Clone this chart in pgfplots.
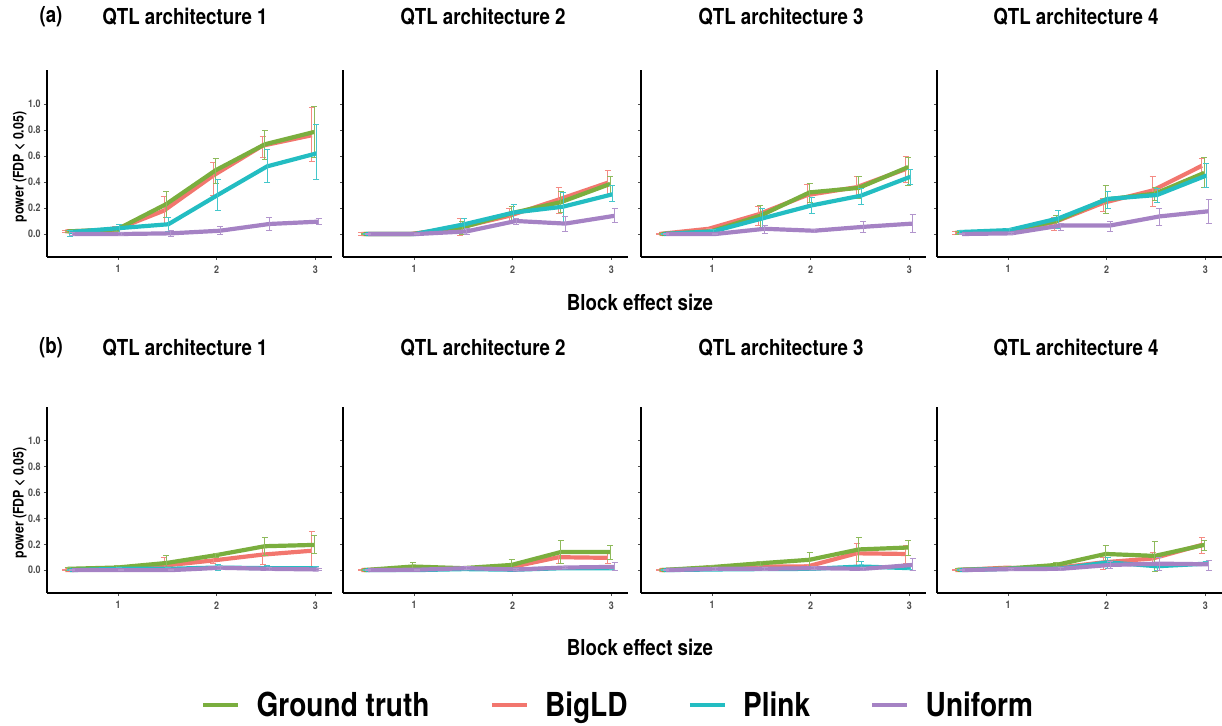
\documentclass[border=0pt]{standalone}
\usepackage{pgfplots}
\pgfplotsset{compat=1.18}
\usepackage{pgfplotstable}
\usepackage{fontspec}
\setmainfont{TeX Gyre Heros}[FakeStretch=0.85]
\definecolor{cG}{HTML}{7AAE3E}
\definecolor{cR}{HTML}{F2766E}
\definecolor{cC}{HTML}{23BDC2}
\definecolor{cU}{HTML}{A582C4}
\definecolor{tickgray}{HTML}{4D4D4D}

% columns: x | ground truth y lo hi | BigLD y lo hi | Plink y lo hi | Uniform y lo hi
\pgfplotstableread{
x   gy    glo    ghi   ry    rlo    rhi   cy    clo    chi   uy    ulo    uhi
0.5 0.02  0.01   0.03  0.02  0.01   0.03  0.015 -0.02  0.03  0.0   -0.01  0.01
1.0 0.035 0.02   0.05  0.03  0.0    0.06  0.045 0.0    0.07  0.0   -0.01  0.01
1.5 0.23  0.13   0.33  0.18  0.08   0.29  0.075 0.02   0.13  0.005 -0.02  0.03
2.0 0.49  0.39   0.58  0.45  0.30   0.55  0.30  0.18   0.42  0.025 0.0    0.06
2.5 0.69  0.57   0.80  0.68  0.59   0.75  0.52  0.40   0.65  0.077 0.025  0.125
3.0 0.785 0.59   0.98  0.76  0.56   0.97  0.62  0.42   0.84  0.095 0.07   0.12
}\tAa
\pgfplotstableread{
x   gy    glo    ghi   ry    rlo    rhi   cy    clo    chi   uy    ulo    uhi
0.5 0.0   -0.005 0.005 0.0   -0.01  0.01  0.0   -0.005 0.005 0.0   -0.005 0.005
1.0 0.0   -0.005 0.005 0.0   -0.005 0.005 0.0   -0.01  0.005 0.0   -0.005 0.005
1.5 0.05  0.0    0.10  0.05  -0.01  0.12  0.075 0.03   0.12  0.02  0.0    0.045
2.0 0.16  0.09   0.215 0.14  0.09   0.195 0.165 0.09   0.23  0.10  0.075  0.12
2.5 0.245 0.165  0.33  0.265 0.16   0.36  0.21  0.09   0.32  0.08  0.02   0.135
3.0 0.385 0.30   0.44  0.395 0.30   0.49  0.305 0.25   0.37  0.14  0.085  0.20
}\tAb
\pgfplotstableread{
x   gy    glo    ghi   ry    rlo    rhi   cy    clo    chi   uy    ulo    uhi
0.5 0.0   -0.005 0.005 0.0   -0.005 0.005 0.0   -0.005 0.005 0.0   -0.005 0.005
1.0 0.02  0.0    0.035 0.04  0.03   0.045 0.02  0.0    0.035 0.0   -0.005 0.005
1.5 0.14  0.04   0.22  0.15  0.065  0.215 0.12  0.05   0.20  0.04  0.005  0.065
2.0 0.32  0.24   0.39  0.30  0.215  0.38  0.22  0.16   0.28  0.025 0.01   0.035
2.5 0.355 0.27   0.44  0.36  0.28   0.44  0.295 0.23   0.35  0.055 0.01   0.095
3.0 0.515 0.37   0.59  0.50  0.40   0.60  0.44  0.38   0.50  0.08  0.01   0.15
}\tAc
\pgfplotstableread{
x   gy    glo    ghi   ry    rlo    rhi   cy    clo    chi   uy    ulo    uhi
0.5 0.01  0.0    0.02  0.01  0.0    0.02  0.015 0.005  0.025 0.0   -0.005 0.005
1.0 0.02  0.005  0.03  0.015 0.005  0.025 0.03  0.015  0.045 0.005 0.0    0.01
1.5 0.10  0.05   0.145 0.09  0.025  0.13  0.12  0.045  0.185 0.065 0.03   0.08
2.0 0.265 0.16   0.37  0.24  0.17   0.27  0.27  0.20   0.33  0.065 0.02   0.10
2.5 0.31  0.255  0.36  0.335 0.21   0.445 0.30  0.245  0.35  0.135 0.065  0.20
3.0 0.47  0.36   0.59  0.525 0.44   0.58  0.45  0.36   0.54  0.175 0.08   0.265
}\tAd
\pgfplotstableread{
x   gy    glo    ghi   ry    rlo    rhi   cy    clo    chi   uy    ulo    uhi
0.5 0.01  0.0    0.02  0.0   -0.005 0.005 0.0   -0.005 0.005 0.0   -0.005 0.005
1.0 0.02  0.01   0.035 0.01  0.0    0.025 0.01  0.0    0.02  0.0   -0.005 0.005
1.5 0.055 0.0    0.11  0.035 0.0    0.095 0.01  0.0    0.02  0.0   -0.005 0.005
2.0 0.115 0.095  0.13  0.075 0.05   0.095 0.02  0.0    0.045 0.018 0.005  0.03
2.5 0.185 0.11   0.255 0.12  0.04   0.19  0.015 0.0    0.035 0.01  0.0    0.02
3.0 0.195 0.13   0.265 0.15  0.0    0.30  0.015 0.005  0.025 0.005 0.0    0.01
}\tBa
\pgfplotstableread{
x   gy    glo    ghi   ry    rlo    rhi   cy    clo    chi   uy    ulo    uhi
0.5 0.0   -0.005 0.005 0.0   -0.005 0.005 0.0   -0.005 0.005 0.0   -0.005 0.005
1.0 0.028 0.0    0.06  0.01  0.0    0.02  0.0   -0.005 0.005 0.003 0.0    0.008
1.5 0.015 0.005  0.025 0.012 0.0    0.025 0.008 0.0    0.015 0.015 0.005  0.025
2.0 0.04  -0.01  0.085 0.02  0.0    0.04  0.003 -0.005 0.01  0.005 0.0    0.01
2.5 0.14  0.05   0.23  0.10  0.05   0.14  0.015 0.005  0.025 0.02  0.01   0.03
3.0 0.14  0.085  0.19  0.095 0.055  0.14  0.015 0.005  0.025 0.025 -0.005 0.06
}\tBb
\pgfplotstableread{
x   gy    glo    ghi   ry    rlo    rhi   cy    clo    chi   uy    ulo    uhi
0.5 0.0   -0.005 0.005 0.0   -0.005 0.005 0.0   -0.005 0.005 0.0   -0.005 0.005
1.0 0.023 0.01   0.035 0.015 0.0    0.035 0.005 0.0    0.01  0.01  0.0    0.02
1.5 0.053 0.035  0.07  0.028 0.015  0.04  0.008 0.0    0.015 0.01  0.0    0.02
2.0 0.08  0.015  0.14  0.028 0.01   0.045 0.01  0.0    0.02  0.015 0.005  0.025
2.5 0.16  0.07   0.25  0.13  0.04   0.21  0.028 0.0    0.065 0.01  0.0    0.02
3.0 0.175 0.115  0.23  0.125 0.05   0.19  0.015 0.005  0.025 0.04  0.0    0.09
}\tBc
\pgfplotstableread{
x   gy    glo    ghi   ry    rlo    rhi   cy    clo    chi   uy    ulo    uhi
0.5 0.003 0.0    0.01  0.0   -0.005 0.005 0.0   -0.005 0.005 0.0   -0.005 0.005
1.0 0.012 0.005  0.02  0.018 0.008  0.025 0.01  0.005  0.015 0.008 0.0    0.015
1.5 0.04  0.025  0.06  0.015 0.005  0.025 0.01  0.005  0.015 0.01  0.0    0.02
2.0 0.125 0.07   0.19  0.06  0.005  0.10  0.06  0.015  0.10  0.04  0.01   0.07
2.5 0.11  -0.01  0.22  0.09  0.04   0.135 0.03  0.0    0.04  0.05  0.0    0.10
3.0 0.195 0.15   0.23  0.195 0.13   0.255 0.05  0.035  0.065 0.045 0.0    0.075
}\tBd

\newcommand{\series}[6]{%
  \addplot[forget plot, color=#5, line width=4.2pt, line join=round, no markers,
    error bars/.cd, y dir=both, y explicit,
    error bar style={line width=0.9pt, color=#5!85!white},
    error mark options={rotate=90, mark size=3pt, line width=0.9pt, color=#5!85!white}]
  table[x expr=\thisrow{x}+#6, y=#2,
        y error plus expr=\thisrow{#4}-\thisrow{#2},
        y error minus expr=\thisrow{#2}-\thisrow{#3}] {#1};}
\newcommand{\allseries}[1]{%
  \series{#1}{ry}{rlo}{rhi}{cR}{-0.034}
  \series{#1}{gy}{glo}{ghi}{cG}{-0.011}
  \series{#1}{cy}{clo}{chi}{cC}{0.011}
  \series{#1}{uy}{ulo}{uhi}{cU}{0.034}}

\pgfplotsset{
  panel/.style={scale only axis, width=285pt, anchor=south west,
    xmin=0.28, xmax=3.17, ymin=-0.177, ymax=1.262,
    axis x line=bottom, axis y line=left,
    axis line style={-, line width=1.6pt, black},
    xtick={1,2,3}, ytick={0,0.2,0.4,0.6,0.8,1.0},
    tick align=outside, major tick length=3pt,
    tick style={line width=0.8pt, color=tickgray},
    /pgf/number format/assume math mode=true,
    yticklabel style={/pgf/number format/.cd, fixed, fixed zerofill, precision=1},
    tick label style={font=\fontsize{10.5}{12}\selectfont\bfseries, text=tickgray},
    xticklabel style={yshift=-2pt},
    clip=false},
  row1/.style={panel, height=187pt},
  row2/.style={panel, height=186pt},
  nolab/.style={yticklabels={}},
}

\begin{document}
\begin{tikzpicture}[x=1pt,y=1pt]
\useasboundingbox (0,0) rectangle (1222,725);
% row (a)
\begin{axis}[row1, at={(47pt,468pt)}]
\allseries{\tAa}
\end{axis}
\begin{axis}[row1, nolab, at={(343pt,468pt)}]
\allseries{\tAb}
\end{axis}
\begin{axis}[row1, nolab, at={(641pt,468pt)}]
\allseries{\tAc}
\end{axis}
\begin{axis}[row1, nolab, at={(937pt,468pt)}]
\allseries{\tAd}
\end{axis}
% row (b)
\begin{axis}[row2, at={(47pt,132pt)}]
\allseries{\tBa}
\end{axis}
\begin{axis}[row2, nolab, at={(343pt,132pt)}]
\allseries{\tBb}
\end{axis}
\begin{axis}[row2, nolab, at={(641pt,132pt)}]
\allseries{\tBc}
\end{axis}
\begin{axis}[row2, nolab, at={(937pt,132pt)},
  legend style={at={(-1.119,-0.602)}, anchor=center, draw=none, fill=none,
    legend columns=4, font=\fontsize{33}{36}\selectfont\bfseries,
    /tikz/every odd column/.append style={column sep=14pt},
    /tikz/every even column/.append style={column sep=58pt}},
  legend image code/.code={\draw[#1, line width=4.5pt] (0pt,0pt) -- (35pt,0pt);}]
\allseries{\tBd}
\addlegendimage{cG}\addlegendentry{Ground truth}
\addlegendimage{cR}\addlegendentry{BigLD}
\addlegendimage{cC}\addlegendentry{Plink}
\addlegendimage{cU}\addlegendentry{Uniform}
\end{axis}
% titles and labels
\begin{scope}[every node/.style={font=\fontsize{22}{24}\selectfont\bfseries}]
\node at (51,708) {(a)};
\node at (185,708) {QTL architecture 1};
\node at (483,708) {QTL architecture 2};
\node at (781,708) {QTL architecture 3};
\node at (1076,708) {QTL architecture 4};
\node at (51,377) {(b)};
\node at (185,377) {QTL architecture 1};
\node at (483,377) {QTL architecture 2};
\node at (781,377) {QTL architecture 3};
\node at (1076,377) {QTL architecture 4};
\end{scope}
\node[font=\fontsize{22}{24}\selectfont\bfseries] at (640,423) {Block effect size};
\node[font=\fontsize{22}{24}\selectfont\bfseries] at (640,78) {Block effect size};
\node[font=\fontsize{14.5}{16}\selectfont\bfseries, rotate=90] at (20,558) {power (FDP < 0.05)};
\node[font=\fontsize{14.5}{16}\selectfont\bfseries, rotate=90] at (20,222) {power (FDP < 0.05)};
\end{tikzpicture}
\end{document}
